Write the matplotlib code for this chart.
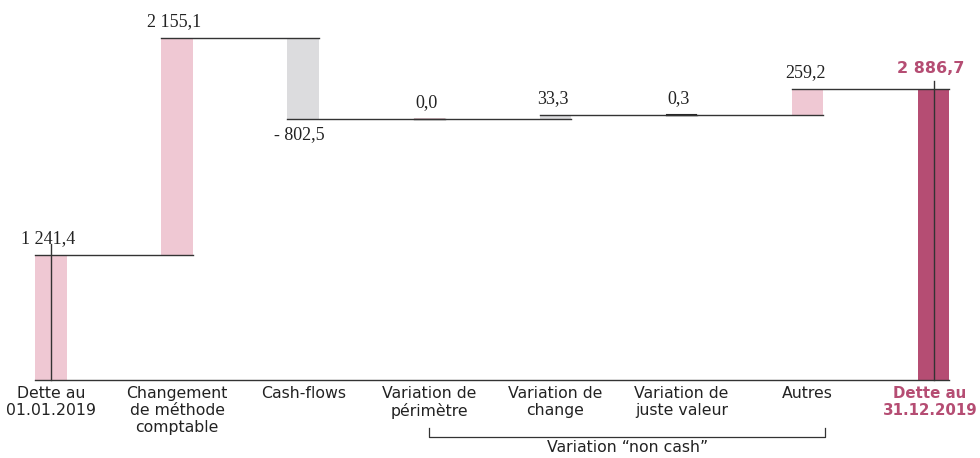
import matplotlib.pyplot as plt
import numpy as np

# data
categories = ["Dette au\n01.01.2019", "Changement\nde méthode\ncomptable", "Cash-flows",
              "Variation de\npérimètre", "Variation de\nchange", "Variation de\njuste valeur",
              "Autres", "Dette au\n31.12.2019"]
values = [1241.4, 2155.1, -802.5, 0.0, 33.3, 0.3, 259.2, 2886.7]
value_labels = ["1 241,4", "2 155,1", "- 802,5", "0,0", "33,3", "0,3", "259,2", "2 886,7"]
bracket_label = "Variation \u201cnon cash\u201d"

PINK = "#efc8d3"
GREY = "#dcdcde"
DARK = "#b54d73"
LINE = "#333333"
bar_colors = [PINK, PINK, GREY, PINK, GREY, "#222222", PINK, DARK]
edge_widths = [0, 0, 0, 1.2, 0, 1.5, 0, 0]

fig = plt.figure(figsize=(9.8, 4.58), dpi=100)
ax = fig.add_axes([0, 0, 1, 1])
ax.set_axis_off()

spacing = 126.1
ax.set_xlim(-51 / spacing, (980 - 51) / spacing)
upp = 9.93  # value units per pixel
ax.set_ylim(-78 * upp, 380 * upp)

x = np.arange(len(values))
w = 0.25

# waterfall bottoms / tops
bottoms = []
levels = []
cum = 0.0
for i, v in enumerate(values):
    if i == 0 or i == len(values) - 1:
        bottoms.append(0.0)
        cum = v
    else:
        bottoms.append(cum if v >= 0 else cum + v)
        cum = cum + v
    levels.append(cum)

heights = [abs(v) if i not in (0, len(values) - 1) else v for i, v in enumerate(values)]
ax.bar(x, heights, bottom=bottoms, width=w, color=bar_colors, edgecolor=bar_colors,
       linewidth=edge_widths, zorder=1)

# connectors
for i in range(len(values) - 1):
    ax.plot([x[i] - w / 2, x[i + 1] + w / 2], [levels[i], levels[i]], color=LINE, lw=1, zorder=2)
# baseline
ax.plot([x[0] - w / 2, x[-1] + w / 2], [0, 0], color=LINE, lw=1, zorder=2)
# vertical lines in the totals
ax.plot([x[0], x[0]], [0, values[0] + 11 * upp], color=LINE, lw=1, zorder=2)
ax.plot([x[-1], x[-1]], [0, values[-1] + 8 * upp], color=LINE, lw=1, zorder=2)

# value labels
serif = "Liberation Serif"
for i, lab in enumerate(value_labels):
    if i == len(values) - 1:
        ax.text(x[i] - 0.02, levels[i] + 13 * upp, lab, ha="center", va="bottom", fontsize=11.5,
                color=DARK, fontweight="bold", family="DejaVu Sans")
    elif values[i] < 0:
        ax.text(x[i] - 0.03, levels[i] - 7 * upp, lab, ha="center", va="top", fontsize=13,
                color="#222222", family=serif)
    else:
        top = bottoms[i] + heights[i]
        ax.text(x[i] - 0.02, top + 8 * upp, lab, ha="center", va="bottom", fontsize=13,
                color="#222222", family=serif)

# category labels
for i, lab in enumerate(categories):
    last = i == len(categories) - 1
    ax.text(x[i] - (0.03 if last else 0), -6 * upp, lab, ha="center", va="top",
            fontsize=10.8 if last else 11.3, linespacing=1.15,
            color=DARK if last else "#222222", fontweight="bold" if last else "normal",
            family="DejaVu Sans")

# bracket for non-cash items
bx0, bx1 = x[3], x[6] + 0.14
yb = -57 * upp
ax.plot([bx0, bx0, bx1, bx1], [yb + 9 * upp, yb, yb, yb + 9 * upp], color=LINE, lw=0.9)
ax.text((bx0 + bx1) / 2, yb - 3 * upp, bracket_label, ha="center", va="top", fontsize=11.3,
        color="#222222", family="DejaVu Sans")

fig.savefig("out.png", dpi=100)
